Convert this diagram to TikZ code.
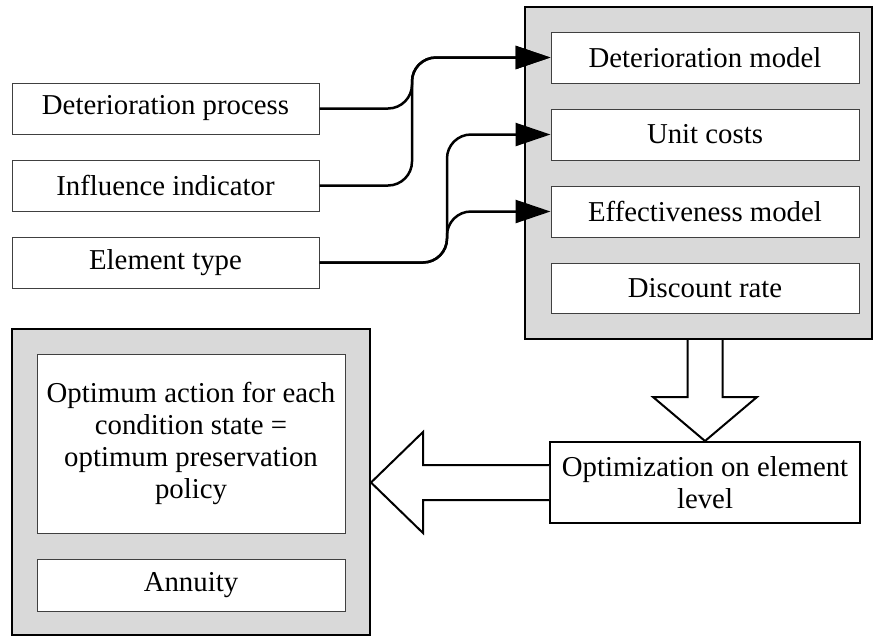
\documentclass[tikz,border=0pt]{standalone}
\usepackage{fontspec}
\setmainfont{Liberation Serif}
\usetikzlibrary{arrows.meta,calc}

\tikzset{
  txt/.style={font=\fontsize{28.8}{32}\selectfont, align=center, inner sep=0pt},
  outerbox/.style={draw=black, line width=2pt, fill=boxgray, inner sep=0pt},
  innerbox/.style={txt, draw=black!75, line width=1pt, fill=white},
  inbox/.style={innerbox, minimum width=307pt, minimum height=51pt},
  modelbox/.style={innerbox, minimum width=308pt, minimum height=51pt},
  feed/.style={line width=2.5pt, rounded corners=24pt, -{Triangle[length=35pt,width=23pt]}},
  blockarrow/.style={draw=black, line width=2pt, fill=white, line join=miter},
}
\definecolor{boxgray}{HTML}{D9D9D9}

\begin{document}
\begin{tikzpicture}[x=1pt, y=-1pt]
  \useasboundingbox (0,0) rectangle (874,638);

  % model container and its parameter boxes
  \node[outerbox, minimum width=347pt, minimum height=332pt] (rbox) at (698.5,173) {};
  \node[modelbox] (dm) at (705,57.5)  {Deterioration model};
  \node[modelbox] (uc) at (705,134.5) {Unit costs};
  \node[modelbox] (em) at (705,211.5) {Effectiveness model};
  \node[modelbox, minimum height=50pt] (dr) at (705,288) {Discount rate};

  % input data
  \node[inbox] (dp) at (165.5,108.5) {Deterioration process};
  \node[inbox] (ii) at (165.5,185.5) {Influence indicator};
  \node[inbox] (et) at (165.5,262.5) {Element type};

  % optimisation step
  \node[txt, draw=black, line width=2pt, fill=white,
        minimum width=310pt, minimum height=81pt] (opt) at (705,482.5)
        {Optimization on element\\level};

  % result container
  \node[outerbox, minimum width=358pt, minimum height=306pt] (lbox) at (191,482) {};
  \node[innerbox, minimum width=308pt, minimum height=179pt] (pol) at (191,443.5)
        {Optimum action for each\\condition state =\\optimum preservation\\policy};
  \node[innerbox, minimum width=308pt, minimum height=52pt] (ann) at (191,585) {Annuity};

  % inputs feeding the models
  \coordinate (busA) at (412,0);
  \coordinate (busB) at (447,0);
  \draw[feed] (dp.east) -- (busA |- dp.east) -- (busA |- dm.west) -- (dm.west);
  \draw[feed] (ii.east) -- (busA |- ii.east) -- (busA |- dm.west) -- (dm.west);
  \draw[feed] (et.east) -- (busB |- et.east) -- (busB |- uc.west) -- (uc.west);
  \draw[feed] (et.east) -- (busB |- et.east) -- (busB |- em.west) -- (em.west);

  % block arrow: models -> optimisation
  \coordinate (dtop) at (opt.north |- rbox.south);
  \draw[blockarrow] ($(dtop)+(-17.5,0)$) -- ($(dtop)+(-17.5,57)$) -- ($(dtop)+(-52,57)$)
      -- (opt.north) -- ($(dtop)+(52,57)$) -- ($(dtop)+(17.5,57)$) -- ($(dtop)+(17.5,0)$);

  % block arrow: optimisation -> result
  \coordinate (ltip) at (lbox.east |- opt.west);
  \draw[blockarrow] ($(opt.west)+(0,-17.5)$) -- ($(ltip)+(52,-17.5)$) -- ($(ltip)+(52,-50.5)$)
      -- (ltip) -- ($(ltip)+(52,50.5)$) -- ($(ltip)+(52,17.5)$) -- ($(opt.west)+(0,17.5)$);
\end{tikzpicture}
\end{document}
